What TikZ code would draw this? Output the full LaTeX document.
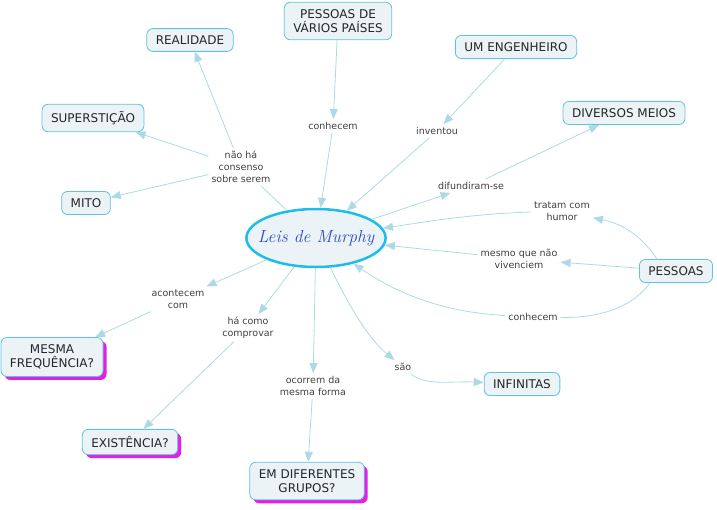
\documentclass[tikz,border=0pt]{standalone}
\usepackage{xcolor}
\usepackage{fontspec}
\usepackage{tikz}
\usetikzlibrary{shapes.geometric,arrows.meta,shadows}
\newfontfamily\mapfont{DejaVu Sans}
\definecolor{linkblue}{RGB}{172,218,228}
\definecolor{boxline}{RGB}{95,195,222}
\definecolor{boxfill}{RGB}{235,243,246}
\definecolor{ringcyan}{RGB}{30,188,232}
\definecolor{murphyblue}{RGB}{45,75,200}
\definecolor{shadowpink}{RGB}{228,30,228}

\tikzset{
  concept/.style={draw=boxline,fill=boxfill,rounded corners=6pt,line width=0.8pt,
    font=\mapfont\fontsize{12}{14.5}\selectfont,text=black!85,align=center,
    inner xsep=9pt,inner ysep=7pt},
  question/.style={concept,drop shadow={shadow xshift=3.5pt,shadow yshift=-3.5pt,
    fill=shadowpink,opacity=1}},
  linkword/.style={font=\mapfont\fontsize{9.5}{12}\selectfont,text=black!75,
    align=center,inner sep=3pt},
  arrowline/.style={draw=linkblue,line width=0.8pt,-{Triangle[length=10pt,width=8pt]}},
  plainline/.style={draw=linkblue,line width=0.8pt}
}

\begin{document}
\begin{tikzpicture}[x=1pt,y=-1pt]
    \useasboundingbox (0,0) rectangle (717,509);
    % central concept
    \node[ellipse,draw=ringcyan,line width=2.5pt,fill=boxfill,inner sep=-9pt,
      minimum width=135pt,minimum height=58pt,text=murphyblue,
      font=\itshape\fontsize{17.5}{20}\selectfont]
      (leis) at (316,238) {Leis de Murphy};
    % concepts
    \node[concept] (realidade) at (190,40) {REALIDADE};
    \node[concept] (paises) at (338,21) {PESSOAS DE\\VÁRIOS PAÍSES};
    \node[concept] (engenheiro) at (516,47) {UM ENGENHEIRO};
    \node[concept] (meios) at (624,113) {DIVERSOS MEIOS};
    \node[concept] (superst) at (93,118) {SUPERSTIÇÃO};
    \node[concept] (mito) at (86,203) {MITO};
    \node[concept] (pessoas) at (676,271) {PESSOAS};
    \node[concept] (infinitas) at (522,384) {INFINITAS};
    \node[question] (frequencia) at (52,357) {MESMA\\FREQUÊNCIA?};
    \node[question] (existencia) at (130,442) {EXISTÊNCIA?};
    \node[question] (grupos) at (307,481) {EM DIFERENTES\\GRUPOS?};
    % linking phrases
    \node[linkword] (consenso) at (241,167) {não há\\consenso\\sobre serem};
    \node[linkword] (conhecemA) at (333,126) {conhecem};
    \node[linkword] (inventou) at (437,131) {inventou};
    \node[linkword] (difundiram) at (471,186) {difundiram-se};
    \node[linkword] (tratam) at (562,211) {tratam com\\humor};
    \node[linkword] (vivenciem) at (519,259) {mesmo que não\\vivenciem};
    \node[linkword] (conhecemB) at (533,317) {conhecem};
    \node[linkword] (acontecem) at (178,299) {acontecem\\com};
    \node[linkword] (comprovar) at (248,328) {há como\\comprovar};
    \node[linkword] (ocorrem) at (313,386) {ocorrem da\\mesma forma};
    \node[linkword] (sao) at (403,367) {são};
    % connectors
    \draw[plainline] (leis) -- (consenso);
    \draw[arrowline] (consenso) -- (realidade);
    \draw[arrowline] (consenso) -- (superst);
    \draw[arrowline] (consenso) -- (mito);
    \draw[arrowline] (paises) -- (conhecemA);
    \draw[arrowline] (conhecemA) -- (leis);
    \draw[arrowline] (engenheiro) -- (inventou);
    \draw[arrowline] (inventou) -- (leis);
    \draw[arrowline] (leis) -- (difundiram);
    \draw[arrowline] (difundiram) -- (meios);
    \draw[arrowline] ([xshift=-19pt]pessoas.north) .. controls (640,234) and (622,224) .. (tratam);
    \draw[arrowline] (tratam) .. controls (470,214) and (425,222) .. (leis);
    \draw[arrowline] (pessoas) -- (vivenciem);
    \draw[arrowline] (vivenciem) -- (leis);
    \draw[plainline] ([xshift=-26pt]pessoas.south) .. controls (630,310) and (595,318) .. (conhecemB);
    \draw[arrowline] (conhecemB) .. controls (440,312) and (395,292) .. (leis);
    \draw[arrowline] (leis) -- (acontecem);
    \draw[arrowline] (acontecem) -- (frequencia);
    \draw[arrowline] (leis) -- (comprovar);
    \draw[arrowline] (comprovar) -- (existencia);
    \draw[arrowline] (leis) -- (ocorrem);
    \draw[arrowline] (ocorrem) -- (grupos);
    \draw[arrowline] (leis) .. controls (352,312) and (370,340) .. (sao);
    \draw[arrowline] (sao) .. controls (425,386) and (450,381) .. (infinitas);
\end{tikzpicture}
\end{document}
